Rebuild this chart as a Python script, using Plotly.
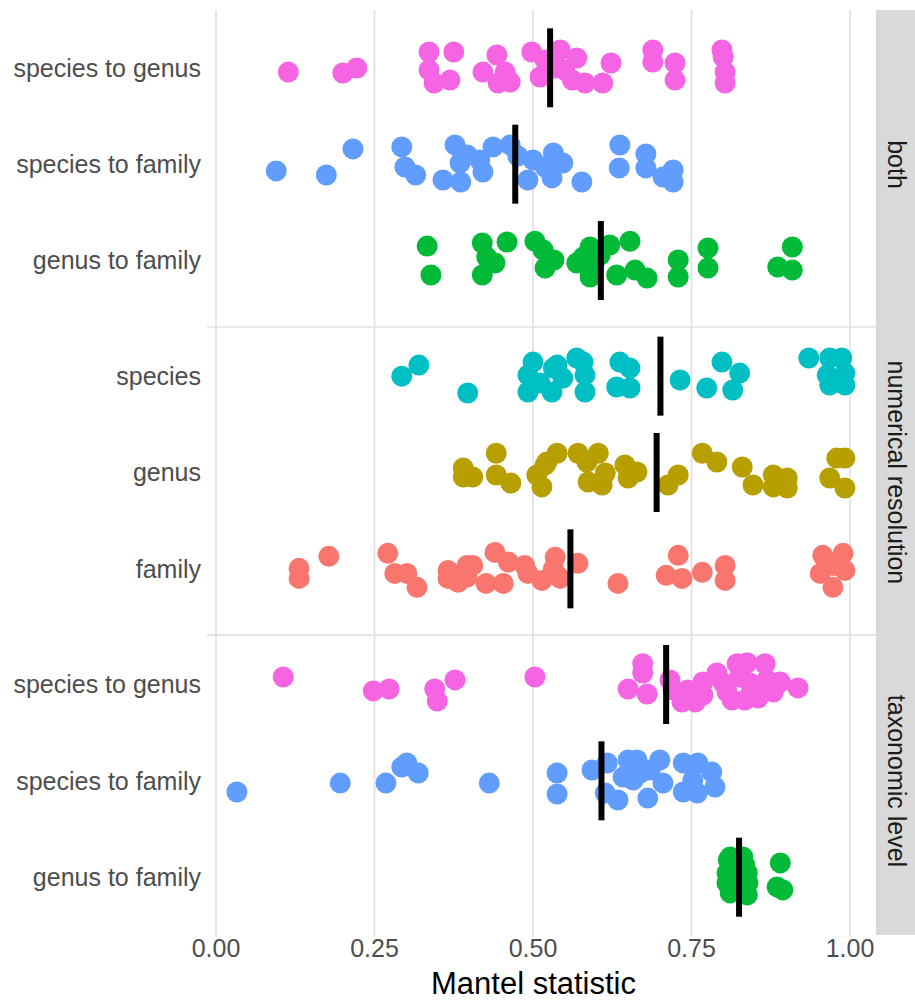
import plotly.graph_objects as go

# ---------------- data ----------------
facets = ["both", "numerical resolution", "taxonomic level"]
categories = [
    ["species to genus", "species to family", "genus to family"],
    ["species", "genus", "family"],
    ["species to genus", "species to family", "genus to family"],
]
colors = [
    ["#F564E3", "#619CFF", "#00BA38"],
    ["#00BFC4", "#B79F00", "#F8766D"],
    ["#F564E3", "#619CFF", "#00BA38"],
]

# panel "both"
both_sg_x = [0.114, 0.200, 0.222, 0.336, 0.375, 0.336, 0.344, 0.369, 0.421, 0.443, 0.445, 0.464,
             0.456, 0.498, 0.511, 0.519, 0.543, 0.550, 0.569, 0.562, 0.582, 0.610, 0.623, 0.689,
             0.689, 0.724, 0.724, 0.798, 0.800, 0.803, 0.803, 0.535]
both_sg_jit = [0.044, 0.054, 0.002, -0.164, -0.164, 0.023, 0.158, 0.127, 0.044, -0.133, 0.158, 0.147,
               0.044, -0.164, 0.095, -0.081, -0.185, 0.023, -0.102, 0.127, 0.158, 0.158, -0.050, -0.185,
               -0.060, -0.050, 0.127, -0.185, -0.112, 0.044, 0.158, 0.002]
both_sf_x = [0.095, 0.174, 0.216, 0.293, 0.298, 0.315, 0.358, 0.377, 0.386, 0.396, 0.385, 0.421,
             0.416, 0.437, 0.464, 0.476, 0.492, 0.500, 0.530, 0.532, 0.547, 0.577, 0.637, 0.636,
             0.678, 0.678, 0.705, 0.721, 0.721, 0.519]
both_sf_jit = [0.070, 0.112, -0.158, -0.179, 0.029, 0.112, 0.164, -0.200, 0.185, -0.095, -0.012, 0.081,
               -0.044, -0.179, -0.200, -0.085, 0.164, -0.044, 0.143, -0.116, -0.012, 0.185, -0.199, 0.039,
               -0.106, 0.039, 0.133, 0.060, 0.185, 0.029]
both_gf_x = [0.333, 0.339, 0.420, 0.420, 0.427, 0.440, 0.459, 0.503, 0.516, 0.519, 0.533, 0.569,
             0.579, 0.590, 0.590, 0.595, 0.606, 0.621, 0.632, 0.653, 0.661, 0.680, 0.729, 0.729,
             0.776, 0.776, 0.909, 0.886, 0.909]
both_gf_jit = [-0.150, 0.150, -0.182, 0.150, -0.036, 0.026, -0.192, -0.200, -0.109, 0.078, -0.005, 0.026,
               -0.036, -0.140, 0.171, 0.067, -0.057, -0.161, 0.150, -0.200, 0.099, 0.182, -0.005, 0.171,
               -0.130, 0.078, -0.140, 0.067, 0.099]

# panel "numerical resolution"
num_sp_x = [0.293, 0.320, 0.397, 0.500, 0.492, 0.492, 0.511, 0.532, 0.530, 0.538, 0.547, 0.569,
            0.579, 0.582, 0.582, 0.637, 0.653, 0.632, 0.653, 0.732, 0.774, 0.798, 0.826, 0.815,
            0.935, 0.968, 0.987, 0.964, 0.992, 0.968, 0.992, 0.981]
num_sp_jit = [0.000, -0.115, 0.175, -0.146, -0.011, 0.165, 0.072, -0.084, 0.165, -0.115, 0.020, -0.188,
              -0.146, -0.011, 0.165, -0.146, -0.084, 0.113, 0.123, 0.040, 0.123, -0.146, -0.032, 0.144,
              -0.188, -0.188, -0.188, -0.011, -0.032, 0.092, 0.092, 0.040]
num_ge_x = [0.390, 0.390, 0.405, 0.442, 0.442, 0.465, 0.506, 0.514, 0.522, 0.538, 0.519, 0.571,
            0.585, 0.603, 0.587, 0.609, 0.614, 0.645, 0.650, 0.664, 0.713, 0.729, 0.767, 0.790,
            0.830, 0.847, 0.879, 0.879, 0.901, 0.901, 0.979, 0.992, 0.968, 0.992]
num_ge_jit = [-0.047, 0.047, 0.047, -0.200, 0.026, 0.109, 0.026, 0.150, -0.109, -0.200, -0.078, -0.200,
              -0.109, -0.200, 0.099, 0.130, 0.005, -0.078, 0.057, -0.005, 0.130, 0.026, -0.200, -0.109,
              -0.057, 0.130, 0.026, 0.150, 0.057, 0.161, -0.150, -0.150, 0.057, 0.161]
num_fa_x = [0.131, 0.131, 0.178, 0.271, 0.282, 0.301, 0.317, 0.366, 0.366, 0.382, 0.396, 0.405,
            0.396, 0.426, 0.440, 0.453, 0.461, 0.487, 0.492, 0.514, 0.535, 0.538, 0.543, 0.532,
            0.571, 0.634, 0.729, 0.710, 0.735, 0.767, 0.803, 0.803, 0.957, 0.989, 0.953, 0.973,
            0.992, 0.973]
num_fa_jit = [-0.005, 0.099, -0.130, -0.161, 0.047, 0.047, 0.192, 0.016, 0.099, 0.140, -0.036, -0.036,
              0.085, 0.151, -0.171, 0.151, -0.071, -0.036, 0.047, 0.120, -0.120, 0.067, 0.099, 0.000,
              -0.057, 0.151, -0.140, 0.067, 0.099, 0.036, -0.036, 0.120, -0.140, -0.161, 0.047, -0.036,
              0.016, 0.192]

# panel "taxonomic level"
tax_sg_x = [0.106, 0.248, 0.273, 0.345, 0.349, 0.377, 0.503, 0.673, 0.673, 0.650, 0.680, 0.716,
            0.721, 0.735, 0.756, 0.744, 0.768, 0.768, 0.790, 0.806, 0.814, 0.822, 0.838, 0.842,
            0.834, 0.855, 0.866, 0.869, 0.879, 0.890, 0.918, 0.800, 0.826]
tax_sg_jit = [-0.078, 0.067, 0.047, 0.047, 0.171, -0.047, -0.078, -0.215, -0.119, 0.047, 0.099, -0.047,
              0.057, 0.182, 0.182, 0.057, -0.026, 0.109, -0.119, 0.078, 0.161, -0.215, -0.225, -0.016,
              0.161, 0.140, -0.215, -0.047, 0.078, -0.026, 0.036, -0.016, -0.078]
tax_sf_x = [0.033, 0.196, 0.268, 0.293, 0.301, 0.319, 0.431, 0.538, 0.538, 0.593, 0.617, 0.614,
            0.634, 0.650, 0.664, 0.642, 0.658, 0.669, 0.685, 0.700, 0.705, 0.681, 0.737, 0.760,
            0.737, 0.752, 0.759, 0.782, 0.787]
tax_sf_jit = [0.116, 0.023, 0.023, -0.143, -0.185, -0.081, 0.023, -0.081, 0.137, -0.112, -0.185, 0.127,
              0.199, -0.216, -0.216, -0.039, -0.008, -0.081, -0.112, -0.216, 0.023, 0.179, -0.185, -0.185,
              0.116, -0.008, 0.127, -0.091, 0.064]
tax_gf_x = [0.808, 0.831, 0.806, 0.838, 0.811, 0.838, 0.822, 0.806, 0.839, 0.822, 0.890, 0.885,
            0.894, 0.817, 0.830, 0.811, 0.834]
tax_gf_jit = [-0.179, -0.210, -0.044, -0.044, 0.163, 0.184, 0.060, 0.060, 0.060, -0.148, -0.148, 0.101,
              0.132, -0.075, 0.132, -0.210, -0.127]

# summary lines (black vertical bars)
summary_x = [
    [0.527, 0.472, 0.607],
    [0.701, 0.695, 0.559],
    [0.710, 0.608, 0.825],
]

x_ticks = [0.0, 0.25, 0.5, 0.75, 1.0]
x_tick_labels = ["0.00", "0.25", "0.50", "0.75", "1.00"]
x_title = "Mantel statistic"

groups = [
    [(both_sg_x, both_sg_jit), (both_sf_x, both_sf_jit), (both_gf_x, both_gf_jit)],
    [(num_sp_x, num_sp_jit), (num_ge_x, num_ge_jit), (num_fa_x, num_fa_jit)],
    [(tax_sg_x, tax_sg_jit), (tax_sf_x, tax_sf_jit), (tax_gf_x, tax_gf_jit)],
]

# ---------------- layout helpers ----------------
EXP = 0.6           # discrete-scale expansion per panel side
PANEL_H = 2 + 2 * EXP

def ypos(p, i):
    return p * PANEL_H + EXP + i

FONT = "Liberation Sans, Arial, sans-serif"
GRID = "#E1E1E1"

W, H = 915, 1002
ML, MR, MT, MB = 207, 39, 10, 67
PLOT_W = W - ML - MR

fig = go.Figure()

# points
for p in range(3):
    for i in range(3):
        xs, js = groups[p][i]
        fig.add_trace(go.Scatter(
            x=xs, y=[ypos(p, i) + j for j in js], mode="markers",
            marker=dict(size=21, color=colors[p][i], line=dict(width=0)),
            hoverinfo="x", showlegend=False))

# summary bars
HALF = 0.41
for p in range(3):
    for i in range(3):
        xv = summary_x[p][i]
        fig.add_trace(go.Scatter(
            x=[xv, xv], y=[ypos(p, i) - HALF, ypos(p, i) + HALF], mode="lines",
            line=dict(color="black", width=6), hoverinfo="skip", showlegend=False))

tickvals, ticktext = [], []
for p in range(3):
    for i in range(3):
        tickvals.append(ypos(p, i))
        ticktext.append(categories[p][i])

shapes = []
# vertical grid lines
for xv in x_ticks:
    shapes.append(dict(type="line", xref="x", yref="paper", x0=xv, x1=xv, y0=-0.002, y1=1.0,
                       line=dict(color=GRID, width=1.7), layer="below"))
# horizontal separator lines
for yv in [3.29, 6.487]:
    shapes.append(dict(type="line", xref="paper", yref="y", x0=0, x1=1, y0=yv, y1=yv,
                       line=dict(color=GRID, width=1.7), layer="below"))
# strip background
shapes.append(dict(type="rect", xref="paper", yref="paper", x0=1.0, x1=(W - ML) / PLOT_W + 0.01,
                   y0=0.0, y1=1.0, fillcolor="#D9D9D9", line=dict(width=0), layer="below"))

annotations = []
for p in range(3):
    annotations.append(dict(text=facets[p], xref="paper", yref="y", x=1.0314, y=ypos(p, 1),
                            showarrow=False, textangle=90, xanchor="center", yanchor="middle",
                            font=dict(family=FONT, size=25, color="#1A1A1A")))
# x-axis title
annotations.append(dict(text=x_title, xref="paper", yref="paper", x=0.5 * (216 + 850 - 2 * 207) / 669,
                        y=-0.0519, showarrow=False, xanchor="center", yanchor="middle",
                        font=dict(family=FONT, size=31, color="black")))

fig.update_layout(
    width=W, height=H,
    margin=dict(l=ML, r=MR, t=MT, b=MB),
    paper_bgcolor="white", plot_bgcolor="white",
    font=dict(family=FONT),
    shapes=shapes, annotations=annotations,
    hovermode=False,
    xaxis=dict(range=[-0.0142, 1.041], tickvals=x_ticks, ticktext=x_tick_labels,
               showgrid=False, zeroline=False, showline=False, automargin=False,
               ticks="", ticklabelstandoff=-4,
               tickfont=dict(family=FONT, size=25, color="#4D4D4D")),
    yaxis=dict(range=[3 * PANEL_H, 0], tickvals=tickvals, ticktext=ticktext,
               showgrid=False, zeroline=False, showline=False, automargin=False,
               ticks="", ticklabelstandoff=5,
               tickfont=dict(family=FONT, size=25, color="#4D4D4D")),
)

fig.write_html("out.html",
               config={"displayModeBar": False},
               post_script="document.body.style.margin='0px';document.body.style.overflow='hidden';")
